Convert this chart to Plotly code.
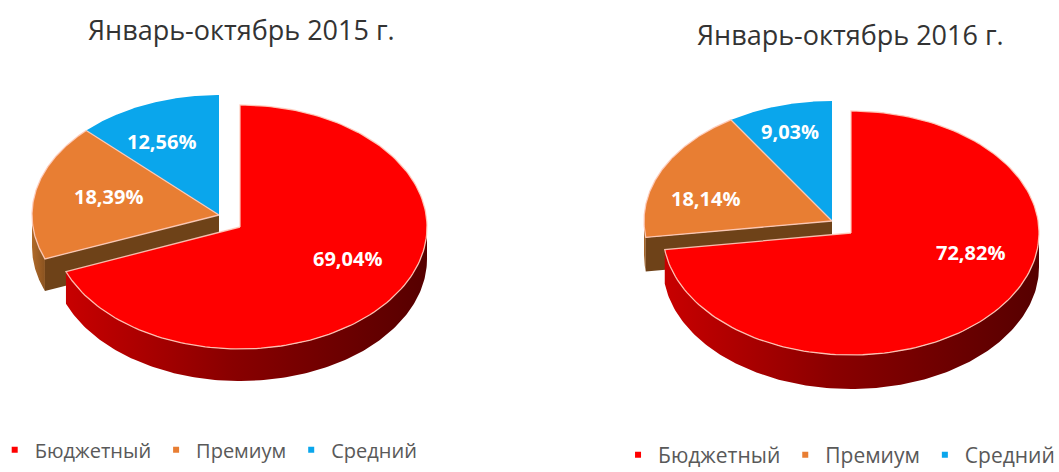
import numpy as np
import plotly.graph_objects as go

categories = ["Бюджетный", "Премиум", "Средний"]
values_2015 = [69.04, 18.39, 12.56]
values_2016 = [72.82, 18.14, 9.03]
titles = ["Январь-октябрь 2015 г.", "Январь-октябрь 2016 г."]

top_colors = ["#FF0000", "#E87E33", "#0AA6EC"]
cut_colors = ["#7A0000", "#6E4218", "#0A6FA0"]
rim_scales = [
    [[0, "#C80000"], [0.45, "#8A0000"], [1, "#560000"]],
    [[0, "#B06A2A"], [1, "#8A5320"]],
    [[0, "#0A6FA0"], [1, "#0A6FA0"]],
]
LINE = "rgba(255,205,190,0.9)"
FONT = "Open Sans"

# pie layout in picture pixels: red slice is pulled out from the other two
layouts = [
    dict(red=(240, 227), rest=(219, 215), a=187, b=122, b_rest=120, depth=32,
         title=(241, 29), labels=[(347, 258), (108, 196), (161, 141)],
         legend=(-0.005, 0.047), lfont=20),
    dict(red=(851, 233), rest=(832, 221), a=188, b=122, b_rest=120, depth=34,
         title=(850, 34), labels=[(970, 252), (705, 198), (790, 131)],
         legend=(0.5836, 0.036), lfont=21),
]


def arc(cx, cy, a, b, t0, t1):
    t = np.radians(np.linspace(t0, t1, 160))
    return cx + a * np.sin(t), cy - b * np.cos(t)


fig = go.Figure()


def poly(x, y, color=None, gradient=None, line=None):
    kw = dict(fillcolor=color) if color else dict(fillgradient=dict(type="horizontal", colorscale=gradient))
    fig.add_trace(go.Scatter(x=list(x), y=list(y), mode="lines", fill="toself",
                             line=dict(color=line or "rgba(0,0,0,0)", width=1.3),
                             hoverinfo="skip", showlegend=False, **kw))


def draw_slice(i, cx, cy, a, b, d, t0, t1):
    ex, ey = arc(cx, cy, a, b, t0, t1)
    if i == 1:
        poly([cx, ex[0], ex[0], cx], [cy, ey[0], ey[0] + d, cy + d], cut_colors[i])
    lo, hi = max(t0, 90), min(t1, 270)
    if lo < hi:
        rx, ry = arc(cx, cy, a, b, lo, hi)
        poly(np.r_[rx, rx[::-1]], np.r_[ry, ry[::-1] + d], gradient=rim_scales[i])
    poly(np.r_[cx, ex, cx], np.r_[cy, ey, cy], top_colors[i], line=LINE if i != 2 else None)


for n, (vals, L) in enumerate(zip([values_2015, values_2016], layouts)):
    starts = np.cumsum([0] + vals[:-1]) * 3.6
    ends = np.cumsum(vals) * 3.6
    ends[-1] = 360
    for i in (2, 1, 0):
        cx, cy = L["red"] if i == 0 else L["rest"]
        b = L["b"] if i == 0 else L["b_rest"]
        draw_slice(i, cx, cy, L["a"], b, L["depth"], starts[i], ends[i])
    for v, (lx, ly) in zip(vals, L["labels"]):
        fig.add_annotation(x=lx, y=ly, text="<b>%s%%</b>" % f"{v:.2f}".replace(".", ","),
                           showarrow=False, font=dict(family=FONT, size=20, color="white"))
    fig.add_annotation(x=L["title"][0], y=L["title"][1], text=titles[n], showarrow=False,
                       font=dict(family=FONT, size=27, color="#333333"))
    lg = "legend" if n == 0 else "legend2"
    for c, col in zip(categories, top_colors):
        fig.add_trace(go.Scatter(x=[None], y=[None], mode="markers", name=c, legend=lg,
                                 marker=dict(symbol="square", size=6, color=col)))

legend_style = dict(orientation="h", xanchor="left", yanchor="middle", itemwidth=30,
                    bgcolor="rgba(0,0,0,0)", itemclick=False, itemdoubleclick=False)
fig.update_layout(
    width=1059, height=472, margin=dict(l=0, r=0, t=0, b=0, autoexpand=False),
    paper_bgcolor="white", plot_bgcolor="white",
    xaxis=dict(range=[0, 1059], visible=False, fixedrange=True),
    yaxis=dict(range=[472, 0], visible=False, fixedrange=True),
    legend=dict(x=layouts[0]["legend"][0], y=layouts[0]["legend"][1],
                font=dict(family=FONT, size=layouts[0]["lfont"], color="#595959"), **legend_style),
    legend2=dict(x=layouts[1]["legend"][0], y=layouts[1]["legend"][1],
                 font=dict(family=FONT, size=layouts[1]["lfont"], color="#595959"), **legend_style),
)
fig.write_html("out.html", config={"displayModeBar": False},
               post_script="document.body.style.margin='0';document.body.style.overflow='hidden';")
